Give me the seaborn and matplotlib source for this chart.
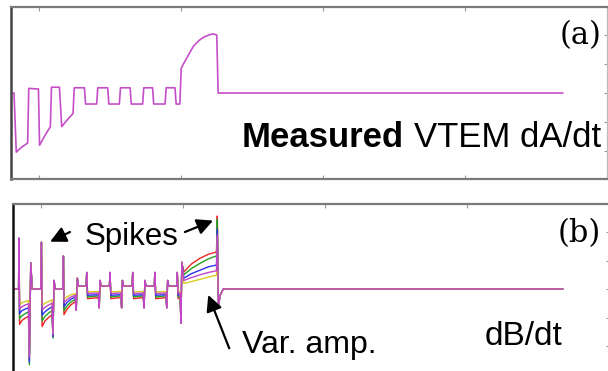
import matplotlib
matplotlib.use("Agg")
import matplotlib.pyplot as plt
import pandas as pd
import seaborn as sns

sns.set_style("white")
plt.rcParams['font.family'] = ['Liberation Sans', 'DejaVu Sans']
plt.rcParams['text.color'] = 'black'

# ---------------- Panel (a): measured VTEM dA/dt ----------------
a_time = [-0.99, -0.88, -0.80, -0.74, -0.60, -0.45, -0.40, -0.36, -0.07, -0.02,
          0.02, 0.20, 0.40, 0.44, 0.72, 0.80, 1.00, 1.15, 1.20, 1.24,
          1.60, 1.64, 2.03, 2.07, 2.42, 2.46, 2.83, 2.87, 3.21, 3.25,
          3.65, 3.69, 4.00, 4.04, 4.44, 4.48, 4.79, 4.83, 4.96, 5.01,
          5.20, 5.43, 5.62, 5.79, 5.98, 6.14, 6.26, 6.31, 18.45]
a_dadt = [0.0, 0.0, -1.02, -0.99, -0.93, -0.88, -0.86, 0.08, 0.07, 0.07,
          -0.90, -0.74, -0.58, 0.10, 0.10, -0.58, -0.46, -0.38, -0.35, 0.09,
          0.09, -0.19, -0.19, 0.09, 0.09, -0.19, -0.19, 0.09, 0.09, -0.19,
          -0.19, 0.09, 0.09, -0.19, -0.19, 0.09, 0.09, -0.19, -0.19, 0.43,
          0.60, 0.80, 0.90, 0.96, 1.00, 1.02, 1.00, 0.0, 0.0]

# ---------------- Panel (b): dB/dt, variable amplitude ----------------
b_series = ["red", "green", "blue", "magenta", "yellow"]
b_colors = {"red": "#ee2424", "green": "#24a024", "blue": "#2a32ee",
            "magenta": "#c244c8", "yellow": "#d8cc1e"}
# knots before the square-wave part: value is a scalar (shared) or (R, G, B, M, Y)
b_head = [
    (-0.99, 0.0), (-0.79, 0.0), (-0.775, 0.89),
    (-0.755, (-0.62, -0.52, -0.43, -0.35, -0.27)),
    (-0.67, (-0.55, -0.47, -0.38, -0.31, -0.24)),
    (-0.55, (-0.51, -0.43, -0.35, -0.28, -0.22)),
    (-0.44, (-0.48, -0.40, -0.33, -0.26, -0.20)),
    (-0.41, (-1.25, -1.33, -1.28, -1.20, -1.15)),
    (-0.36, 0.46), (-0.31, 0.0), (-0.01, 0.0), (0.015, 0.82),
    (0.04, (-0.66, -0.56, -0.46, -0.37, -0.29)),
    (0.14, (-0.56, -0.48, -0.40, -0.32, -0.25)),
    (0.27, (-0.50, -0.42, -0.35, -0.28, -0.22)),
    (0.39, (-0.45, -0.38, -0.31, -0.25, -0.19)),
    (0.42, (-0.82, -0.86, -0.84, -0.80, -0.78)),
    (0.46, 0.15), (0.50, 0.0), (0.77, 0.0), (0.79, 0.58),
    (0.81, (-0.45, -0.38, -0.31, -0.24, -0.18)),
    (0.91, (-0.36, -0.30, -0.24, -0.19, -0.14)),
    (1.05, (-0.28, -0.23, -0.18, -0.14, -0.10)),
    (1.21, (-0.22, -0.18, -0.14, -0.11, -0.08)),
    (1.24, -0.37), (1.28, 0.19), (1.32, 0.05),
]
# square-wave part
sq_down = [1.61, 2.43, 3.23, 4.01, 4.80]
sq_up = [2.05, 2.84, 3.63, 4.43, 4.93]
sq_up_spike = [0.29, 0.29, 0.29, 0.29, 0.29]
sq_dn_spike = [-0.33, -0.33, -0.33, -0.33, -0.60]
sq_hi = 0.05
sq_lo_start = (-0.17, -0.14, -0.11, -0.08, -0.05)
sq_lo_end = (-0.15, -0.12, -0.10, -0.07, -0.045)
# final ramp and big spike
b_tail = [
    (4.96, 0.47),
    (5.03, (0.30, 0.25, 0.19, 0.15, 0.10)),
    (5.30, (0.44, 0.36, 0.27, 0.20, 0.13)),
    (5.60, (0.54, 0.45, 0.33, 0.25, 0.17)),
    (5.90, (0.61, 0.53, 0.39, 0.29, 0.21)),
    (6.18, (0.65, 0.58, 0.42, 0.32, 0.24)),
    (6.21, (1.28, 1.22, 1.05, 0.95, 0.90)),
    (6.25, -0.28), (6.32, -0.10), (6.42, 0.0), (18.38, 0.0),
]

knots = list(b_head)
for i, (d, u) in enumerate(zip(sq_down, sq_up)):
    knots += [(d - 0.02, sq_hi), (d, sq_up_spike[i]), (d + 0.03, sq_lo_start),
              (u - 0.03, sq_lo_end), (u, sq_dn_spike[i])]
    if i < len(sq_up) - 1:
        knots += [(u + 0.03, 0.15), (u + 0.07, sq_hi)]
knots += b_tail

rows = []
for k, name in enumerate(b_series):
    for j, (t, v) in enumerate(knots):
        val = v[k] if isinstance(v, tuple) else v
        rows.append({"series": name, "t": t, "v": val, "idx": j})
df_b = pd.DataFrame(rows)
df_a = pd.DataFrame({"t": a_time, "v": a_dadt})

# ---------------- Figure ----------------
W, H = 608, 371
fig = plt.figure(figsize=(W / 100, H / 100), dpi=100)
ax_a = fig.add_axes([11 / W, (H - 178.5) / H, (608 - 11) / W, (178.5 - 7) / H])
ax_b = fig.add_axes([13 / W, (H - 374.5) / H, (610 - 13) / W, (374.5 - 203.5) / H])

sns.lineplot(data=df_a, x="t", y="v", sort=False, estimator=None,
             color="#c44ec8", lw=1.2, ax=ax_a)
sns.lineplot(data=df_b, x="t", y="v", hue="series", units="series",
             hue_order=["red", "green", "blue", "yellow", "magenta"],
             palette=b_colors, sort=False, estimator=None, legend=False,
             lw=1.0, ax=ax_b)

xlim = (-0.986, 20.04)
ax_a.set_xlim(*xlim)
ax_b.set_xlim(*xlim)
ax_a.set_ylim(-1.474, 1.483)
ax_b.set_ylim(-1.5, 1.5)

for ax in (ax_a, ax_b):
    ax.set_xticks([0, 5, 10, 15, 20])
    ax.set_yticks([-1, -0.5, 0, 0.5, 1])
    ax.tick_params(direction="in", length=3, width=0.8, color="#999999",
                   top=True, bottom=True, left=False, right=True,
                   labelbottom=False, labelleft=False)
    ax.set_xlabel("")
    ax.set_ylabel("")
    for s in ("top", "bottom", "right"):
        ax.spines[s].set_color("#7a7a7a")
        ax.spines[s].set_linewidth(1.6)
    ax.spines["right"].set_color("#bbbbbb")
ax_a.spines["left"].set_color("#444444")
ax_a.spines["left"].set_linewidth(1.8)
ax_b.spines["left"].set_color("#111111")
ax_b.spines["left"].set_linewidth(1.8)

# texts panel (a)
ax_a.text(18.35, 0.99, "(a)", family="DejaVu Serif", fontsize=22,
          ha="left", va="center", color="black")
ax_a.text(7.15, -0.93, "Measured", fontsize=25, fontweight="bold",
          ha="left", va="baseline", color="black")
ax_a.text(19.81, -0.93, "VTEM dA/dt", fontsize=25, ha="right", va="baseline",
          color="black")

# texts panel (b)
ax_b.text(18.2, 0.965, "(b)", family="DejaVu Serif", fontsize=22,
          ha="left", va="center", color="black")
ax_b.text(1.55, 0.77, "Spikes", fontsize=22.5, ha="left", va="baseline",
          color="black")
ax_b.text(7.08, -1.12, "Var. amp.", fontsize=23, ha="left", va="baseline",
          color="black")
ax_b.text(15.63, -0.98, "dB/dt", fontsize=24, ha="left", va="baseline",
          color="black")

arrow = dict(arrowstyle="-|>", color="black", lw=1.6, mutation_scale=24,
             shrinkA=0, shrinkB=0)
ax_b.annotate("", xy=(0.32, 0.83), xytext=(1.02, 1.0), arrowprops=arrow)
ax_b.annotate("", xy=(6.06, 1.2), xytext=(5.07, 1.0), arrowprops=arrow)
ax_b.annotate("", xy=(5.89, -0.105), xytext=(6.63, -1.04), arrowprops=arrow)

fig.savefig("out.png", dpi=100)
